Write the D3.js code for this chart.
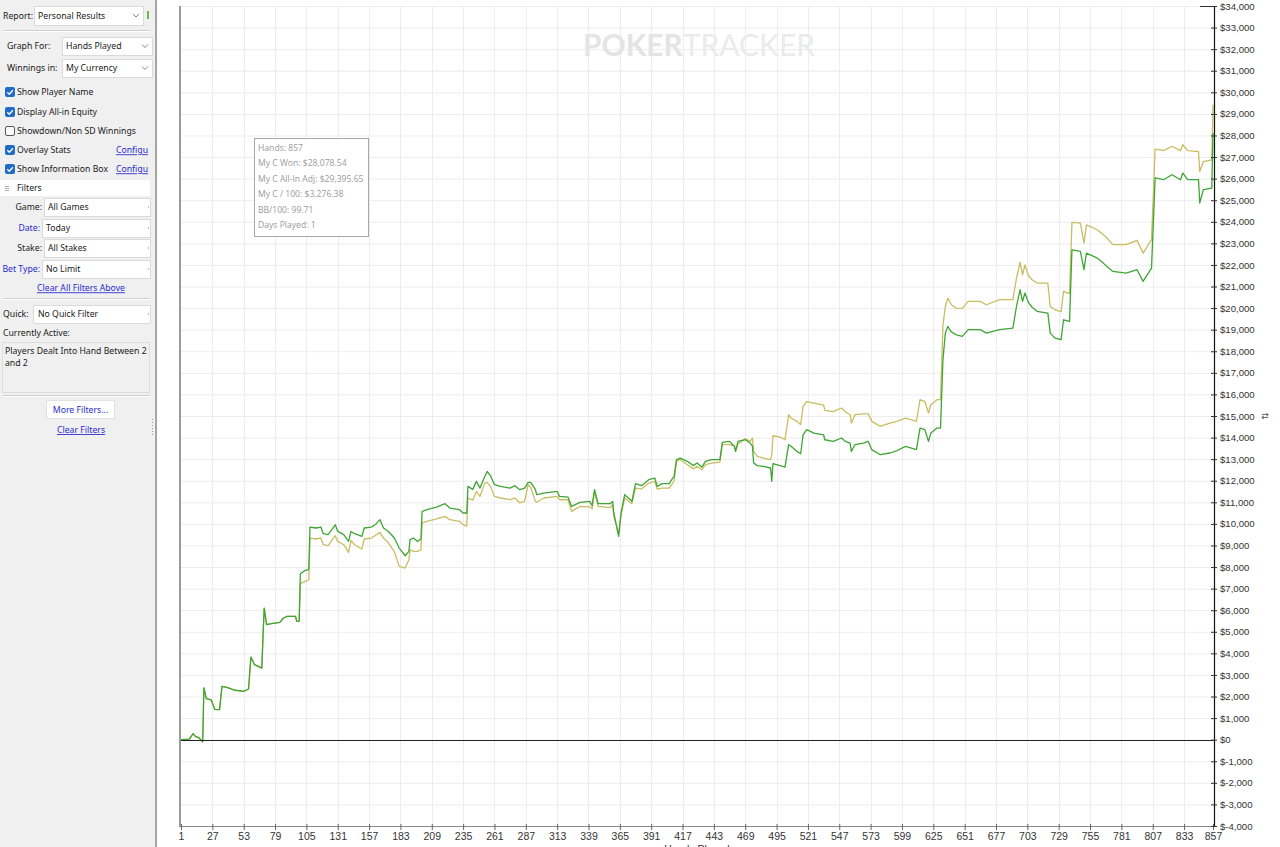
<!DOCTYPE html>
<html><head><meta charset="utf-8">
<script src="https://cdn.jsdelivr.net/npm/d3@7"></script>
<style>
html,body{margin:0;padding:0;background:#fff;overflow:hidden}
svg{display:block}
</style></head><body>
<svg id="c" width="1280" height="847"></svg>
<script>
// ---------- DATA ----------
const hands = [1,8,11,13,16,19,20,22,26,29,33,35,39,46,53,57,59,62,66,68,70,72,76,83,86,89,96,97,99,
100,104,107,108,113,117,119,123,129,131,136,140,142,145,151,153,159,163,166,169,173,178,182,187,190,191,194,197,200,
201,205,213,220,224,232,235,238,239,243,246,249,253,255,258,261,266,274,278,282,286,289,291,295,296,302,313,315,322,
325,332,340,342,344,347,357,359,360,364,366,369,375,378,383,389,394,396,400,406,408,410,412,415,421,426,429,433,436,
441,448,450,456,460,461,463,469,473,475,476,479,484,490,491,492,498,502,505,507,512,515,517,520,526,534,535,542,549,
552,556,557,560,567,571,574,581,589,595,602,611,614,618,621,623,628,631,633,635,637,640,644,649,654,664,669,680,691,
694,697,699,701,704,707,711,720,722,726,731,733,738,740,747,750,752,761,766,769,774,785,794,799,806,809,816,823,830,
832,836,845,846,849,856,857];
const wonValues = [0,30,280,150,80,-100,2400,1900,1850,1400,1390,2470,2420,2290,2240,2350,3830,3475,3370,3320,6100,5330,5375,5435,5640,5715,5715,5480,5480,
7690,7845,7880,9855,9810,9855,9545,9500,9960,9650,9500,9190,9650,9545,9420,9810,9855,10010,10195,9810,9650,9345,8880,8525,8725,9270,9345,9190,9300,
10580,10660,10780,10935,10735,10660,10505,10505,11740,11600,11970,11660,12200,12430,12200,11815,11740,11660,11770,11585,11660,11920,11920,11585,11355,11430,11505,11275,11245,
10810,11000,11045,10845,11585,10935,10935,11045,10505,9420,10505,11355,11045,11865,11770,12050,12125,11740,11865,11865,12050,12200,12975,13050,12900,12700,12820,12635,12900,
12975,12975,13775,13825,13600,13360,13825,13900,13745,13600,12820,12700,12665,12590,11970,12790,12700,12635,13670,13600,13360,13250,14130,14365,14210,14130,13900,13825,13980,
13825,13745,13360,13670,13745,13825,13440,13205,13285,13400,13590,13440,14440,14365,13825,14210,14440,14440,17610,18840,19150,18900,18765,18690,19000,19000,18840,19000,19075,
20075,20855,20310,20700,20250,20040,19850,19770,18840,18610,18535,19460,19385,22700,22625,21780,22550,22320,22085,21930,21700,21625,21780,21240,21855,26030,25950,26180,25950,
26260,25950,25950,24870,25490,25560,28110];
const allInValues = [0,30,280,150,80,-100,2400,1900,1850,1400,1390,2470,2420,2290,2240,2350,3830,3475,3370,3320,6100,5330,5375,5435,5640,5715,5715,5480,5480,
7230,7335,7400,9345,9300,9350,9035,8990,9455,9190,9035,8680,9230,9035,8835,9300,9345,9500,9605,9345,9120,8700,8030,7955,8340,8795,8725,8725,8800,
10040,10120,10230,10350,10195,10120,9965,9900,11200,11100,11505,11275,11890,11925,11700,11275,11200,11120,11200,10970,11045,11815,11700,11045,11000,11200,11275,11120,11120,
10580,10810,10790,10700,11505,10810,10750,10900,10350,9575,10400,11200,10935,11660,11615,11895,11970,11615,11660,11660,11815,12000,12900,12975,12745,12550,12670,12510,12745,
12820,12860,13670,13670,13600,13360,13700,13950,13825,13980,13360,13125,13050,12975,13200,14085,14025,13900,15060,14900,14750,14600,15445,15670,15600,15500,15260,15200,15370,
15200,15060,14675,15060,15100,15100,14750,14520,14675,14750,14900,14750,15755,15670,15140,15520,15755,15755,19200,20075,20465,20155,20000,19990,20310,20310,20155,20390,20390,
21390,22115,21545,22000,21500,21315,21160,21160,20075,19920,19840,20775,20675,23975,23940,23015,23860,23630,23400,23250,22940,22940,23140,22550,23170,27370,27300,27500,27300,
27570,27300,27250,26330,26790,26870,29425];
const xTickLabels = [1,27,53,79,105,131,157,183,209,235,261,287,313,339,365,391,417,443,469,495,521,547,573,599,625,651,677,703,729,755,781,807,833,857];
const yTickValues = [-4000,-3000,-2000,-1000,0,1000,2000,3000,4000,5000,6000,7000,8000,9000,10000,11000,12000,13000,14000,15000,16000,17000,18000,19000,20000,21000,22000,23000,24000,25000,26000,27000,28000,29000,30000,31000,32000,33000,34000];
const infoLines = ["Hands: 857","My C Won: $28,078.54","My C All-In Adj: $29,395.65","My C / 100: $3,276.38","BB/100: 99.71","Days Played: 1"];

// ---------- CHART ----------
const svg = d3.select("#c");
const L = 180, R = 1214, T = 6, B = 826;
const x = d3.scaleLinear().domain([1,857]).range([181,1213]);
const y = d3.scaleLinear().domain([-4000,34000]).range([B,T]);

const chart = svg.append("g");
// gridlines
chart.append("g").selectAll("line").data(yTickValues).join("line")
  .attr("x1",L).attr("x2",R).attr("y1",d=>y(d)+0.5).attr("y2",d=>y(d)+0.5)
  .attr("stroke","#ededed").attr("stroke-width",1);
chart.append("g").selectAll("line").data(xTickLabels.slice(1,-1)).join("line")
  .attr("y1",T).attr("y2",B).attr("x1",d=>Math.round(x(d))+0.5).attr("x2",d=>Math.round(x(d))+0.5)
  .attr("stroke","#ededed").attr("stroke-width",1);

// watermark
const wm = chart.append("text").attr("x",583).attr("y",56)
  .attr("font-family","Lato, 'Open Sans', sans-serif").attr("font-size",30).attr("fill","#e4e4e4")
  .attr("textLength",232).attr("lengthAdjust","spacingAndGlyphs");
wm.append("tspan").attr("font-weight","bold").text("POKER");
wm.append("tspan").attr("font-weight","normal").attr("fill","#ebebeb").text("TRACKER");

// info box
chart.append("rect").attr("x",254.5).attr("y",138.5).attr("width",114).attr("height",98)
  .attr("fill","#fff").attr("stroke","#a8a8a8");
chart.append("g").selectAll("text").data(infoLines).join("text")
  .attr("x",258).attr("y",(d,i)=>151+i*15.4)
  .attr("font-family","'Open Sans', 'Noto Sans', sans-serif").attr("font-size",8.6).attr("fill","#9a9a9a")
  .text(d=>d);

// series
const pts = (vals)=>hands.map((h,i)=>[h,vals[i]]);
const line = d3.line().x(d=>x(d[0])).y(d=>y(d[1]));
chart.append("path").attr("d",line(pts(allInValues))).attr("fill","none")
  .attr("stroke","#c9bd62").attr("stroke-width",1.3).attr("stroke-linejoin","round");
chart.append("path").attr("d",line(pts(wonValues))).attr("fill","none")
  .attr("stroke","#3fa535").attr("stroke-width",1.3).attr("stroke-linejoin","round");

// zero line
chart.append("line").attr("x1",L).attr("x2",R).attr("y1",Math.round(y(0))+0.5).attr("y2",Math.round(y(0))+0.5)
  .attr("stroke","#222").attr("stroke-width",1);

// left frame
chart.append("line").attr("x1",L).attr("x2",L).attr("y1",T).attr("y2",B+1).attr("stroke","#9a9a9a").attr("stroke-width",2);

// x axis
const xAxis = d3.axisBottom(x).tickValues(xTickLabels).tickSize(4).tickFormat(d3.format("d"));
const gx = chart.append("g").attr("transform",`translate(0,${B})`).call(xAxis);
gx.select(".domain").attr("stroke","#8a8a8a").attr("d",`M${L},0.5H${R}`);
gx.selectAll(".tick line").attr("stroke","#666").attr("y1",-2).attr("y2",4);
gx.selectAll(".tick text").attr("dy",0).attr("y",14)
  .attr("font-family","'Liberation Sans Narrow','Liberation Sans',Arial,sans-serif").attr("font-size",10.5).attr("fill","#333");

// y axis
const yAxis = d3.axisRight(y).tickValues(yTickValues).tickSize(3)
  .tickFormat(d=> d<0 ? "$-" + d3.format(",")(-d) : "$" + d3.format(",")(d));
const gy = chart.append("g").attr("transform",`translate(${R},0)`).call(yAxis);
gy.select(".domain").attr("stroke","#111").attr("stroke-width",1.2).attr("d",`M0.5,${T}V${B+1}`);
gy.selectAll(".tick line").attr("stroke","#333").attr("x1",-3).attr("x2",3);
gy.selectAll(".tick text").attr("x",6)
  .attr("font-family","'Liberation Sans',Arial,sans-serif").attr("font-size",9.6).attr("fill","#333");
chart.append("line").attr("x1",1200).attr("x2",R).attr("y1",y(34000)+0.5).attr("y2",y(34000)+0.5).attr("stroke","#333");

// x-axis title (partially cut off by the window, as in the original)
chart.append("text").attr("x",697).attr("y",853).attr("text-anchor","middle")
  .attr("font-family","'Liberation Sans',Arial,sans-serif").attr("font-size",10.5).attr("fill","#333").text("Hands Played");

// small icon at right
chart.append("text").attr("x",1265).attr("y",419).attr("text-anchor","middle")
  .attr("font-family","DejaVu Sans").attr("font-size",9).attr("fill","#555").text("⇄");

// ---------- LEFT PANEL ----------
const P = svg.append("g");
const F = "'Noto Sans','Open Sans',sans-serif";
P.append("rect").attr("x",0).attr("y",0).attr("width",156).attr("height",847).attr("fill","#f0f0f0");
P.append("rect").attr("x",155).attr("y",0).attr("width",2).attr("height",847).attr("fill","#a5a5a5");

function txt(xx,yy,s,opt={}){
  const t = P.append("text").attr("x",xx).attr("y",yy).attr("font-family",F)
    .attr("font-size",opt.size||8.7).attr("fill",opt.fill||"#1a1a1a")
    .attr("text-anchor",opt.anchor||"start").text(s);
  if(opt.underline) t.attr("text-decoration","underline");
  return t;
}
function select(x0,y0,w,h,label,arrow=true,lx){
  P.append("rect").attr("x",x0+0.5).attr("y",y0+0.5).attr("width",w).attr("height",h)
    .attr("fill","#fff").attr("stroke","#dadada");
  txt(lx!==undefined?lx:x0+4,y0+h/2+3.3,label);
  if(arrow){
    P.append("path").attr("d",`M${x0+w-10},${y0+h/2-1.5}l3,3l3,-3`).attr("fill","none").attr("stroke","#777").attr("stroke-width",0.9);
  } else {
    P.append("rect").attr("x",x0+w-2).attr("y",y0+h/2-1).attr("width",1).attr("height",2).attr("fill","#bbb");
  }
}
function sep(yy){
  P.append("line").attr("x1",3).attr("x2",150).attr("y1",yy+0.5).attr("y2",yy+0.5).attr("stroke","#cfcfcf");
  P.append("line").attr("x1",3).attr("x2",150).attr("y1",yy+1.5).attr("y2",yy+1.5).attr("stroke","#fff");
}
function checkbox(yy,checked,label){
  if(checked){
    P.append("rect").attr("x",5).attr("y",yy-5).attr("width",10).attr("height",10).attr("rx",2)
      .attr("fill","#1e6cc8");
    P.append("path").attr("d",`M7.3,${yy+0.2}l2,2l3.6,-4`).attr("fill","none").attr("stroke","#fff").attr("stroke-width",1.3);
  } else {
    P.append("rect").attr("x",5.5).attr("y",yy-4.5).attr("width",9).attr("height",9).attr("rx",1.5)
      .attr("fill","#fff").attr("stroke","#555");
  }
  txt(17,yy+3.3,label);
}

txt(3,18.5,"Report:");
select(34,6,109,19,"Personal Results",true,38);
P.append("rect").attr("x",147).attr("y",11).attr("width",2).attr("height",8).attr("fill","#6cc04a");
sep(30);
txt(7,49.3,"Graph For:");
select(62,37,90,18,"Hands Played",true,66);
txt(7,71.3,"Winnings in:");
select(62,59,90,18,"My Currency",true,66);

checkbox(92,true,"Show Player Name");
checkbox(112,true,"Display All-in Equity");
checkbox(131,false,"Showdown/Non SD Winnings");
checkbox(150,true,"Overlay Stats");
checkbox(169,true,"Show Information Box");
txt(116,153.3,"Configu",{fill:"#2b2bd0",underline:true});
txt(116,172.3,"Configu",{fill:"#2b2bd0",underline:true});

P.append("rect").attr("x",0).attr("y",180).attr("width",150).attr("height",16).attr("fill","#fff");
P.append("path").attr("d","M5,186.5h4M5,188.5h4M5,190.5h4").attr("stroke","#999").attr("stroke-width",0.8);
txt(17,191.3,"Filters");

txt(42,210.3,"Game:",{anchor:"end"});
select(44,198,106,18,"All Games",false,48);
txt(40,231.3,"Date:",{anchor:"end",fill:"#2b2bd0"});
select(42,219,108,18,"Today",false,46);
txt(42,251.3,"Stake:",{anchor:"end"});
select(44,239,106,18,"All Stakes",false,48);
txt(40,272.3,"Bet Type:",{anchor:"end",fill:"#2b2bd0"});
select(42,260,108,18,"No Limit",false,46);
txt(81,291.3,"Clear All Filters Above",{anchor:"middle",fill:"#2b2bd0",underline:true});
sep(298);
txt(3,317.3,"Quick:");
select(33,305,117,18,"No Quick Filter",false,38);
txt(3,336.3,"Currently Active:");
P.append("rect").attr("x",2.5).attr("y",342.5).attr("width",147).attr("height",50).attr("fill","#f0f0f0").attr("stroke","#dcdcdc");
txt(5,354,"Players Dealt Into Hand Between 2");
txt(5,366,"and 2");
sep(395);
P.append("rect").attr("x",46.5).attr("y",400.5).attr("width",68).attr("height",18).attr("fill","#fff").attr("stroke","#e2e2e2");
txt(80.5,412.5,"More Filters...",{anchor:"middle",fill:"#2b2bd0"});
txt(81,433,"Clear Filters",{anchor:"middle",fill:"#2b2bd0",underline:true});
P.append("g").selectAll("rect").data([419,422,425,428,431,434]).join("rect")
  .attr("x",152).attr("y",d=>d).attr("width",1).attr("height",1).attr("fill","#999");
</script>
</body></html>
